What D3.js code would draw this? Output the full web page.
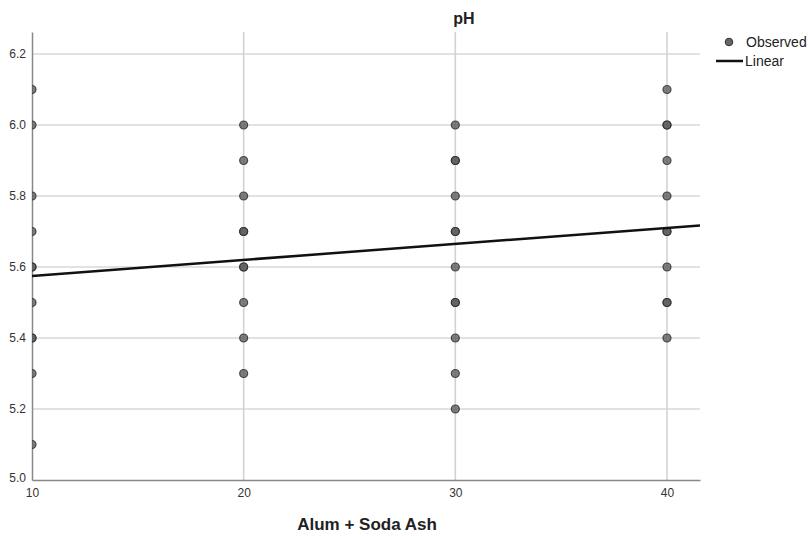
<!DOCTYPE html>
<html>
<head>
<meta charset="utf-8">
<script src="https://d3js.org/d3.v7.min.js"></script>
<style>
  body { margin: 0; background: #fff; }
  svg { display: block; font-family: "Liberation Sans", Arial, sans-serif; }
  .tick text { font-size: 12px; fill: #333; }
</style>
</head>
<body>
<script>
  // dose groups and observed pH readings (count = how many overlap)
  const doses = [10, 20, 30, 40];
  const phByDose = [
    [5.1, 5.3, 5.4, 5.5, 5.6, 5.7, 5.8, 6.0, 6.1],
    [5.3, 5.4, 5.5, 5.6, 5.7, 5.8, 5.9, 6.0],
    [5.2, 5.3, 5.4, 5.5, 5.6, 5.7, 5.8, 5.9, 6.0],
    [5.4, 5.5, 5.6, 5.7, 5.8, 5.9, 6.0, 6.1]
  ];
  const countsByDose = [
    [1, 1, 2, 1, 2, 1, 1, 1, 1],
    [1, 1, 1, 2, 2, 1, 1, 1],
    [1, 1, 1, 2, 1, 2, 1, 2, 1],
    [1, 2, 1, 2, 1, 1, 2, 1]
  ];
  // fitted linear model
  const intercept = 5.53;
  const slope = 0.0045;

  const xTicks = [10, 20, 30, 40];
  const yTicks = [5.0, 5.2, 5.4, 5.6, 5.8, 6.0, 6.2];

  const width = 811, height = 537;
  const mLeft = 32, mRight = 700, mTop = 32, mBottom = 480;

  const x = d3.scaleLinear().domain([10, 41.56]).range([mLeft, mRight]);
  const y = d3.scaleLinear().domain([5.0, 6.262]).range([mBottom, mTop]);

  const svg = d3.select('body').append('svg')
    .attr('width', width).attr('height', height);

  svg.append('defs').append('clipPath').attr('id', 'plot')
    .append('rect').attr('x', mLeft).attr('y', mTop)
    .attr('width', mRight - mLeft).attr('height', mBottom - mTop);

  // gridlines
  svg.append('g').selectAll('line')
    .data(yTicks.slice(1))
    .join('line')
    .attr('x1', mLeft).attr('x2', mRight)
    .attr('y1', d => y(d)).attr('y2', d => y(d))
    .attr('stroke', '#c4c4c4').attr('stroke-width', 1);

  svg.append('g').selectAll('line')
    .data(xTicks.slice(1))
    .join('line')
    .attr('x1', d => x(d)).attr('x2', d => x(d))
    .attr('y1', mTop).attr('y2', mBottom)
    .attr('stroke', '#d2d2d2').attr('stroke-width', 1.6);

  // axes
  const xAxis = svg.append('g')
    .attr('transform', `translate(0,${mBottom})`)
    .call(d3.axisBottom(x).tickValues(xTicks).tickSize(0).tickPadding(8).tickFormat(d3.format('d')));
  xAxis.select('.domain').attr('stroke', '#888').attr('stroke-width', 1.5);

  const yAxis = svg.append('g')
    .attr('transform', `translate(${mLeft},0)`)
    .call(d3.axisLeft(y).tickValues(yTicks).tickSize(0).tickPadding(6).tickFormat(d3.format('.1f')));
  yAxis.select('.domain').attr('stroke', '#888').attr('stroke-width', 1.5);
  yAxis.selectAll('.tick text').attr('dy', d => d === 5.0 ? '0.1em' : '0.32em');

  const plot = svg.append('g').attr('clip-path', 'url(#plot)');

  // observed points
  const pts = doses.flatMap((dose, i) =>
    phByDose[i].flatMap((v, j) => d3.range(countsByDose[i][j]).map(() => ({ dose, v }))));

  plot.selectAll('circle')
    .data(pts)
    .join('circle')
    .attr('cx', d => x(d.dose))
    .attr('cy', d => y(d.v))
    .attr('r', 4)
    .attr('fill', '#5e5e5e')
    .attr('fill-opacity', 0.8)
    .attr('stroke', '#2a2a2a')
    .attr('stroke-opacity', 0.8)
    .attr('stroke-width', 1.2);

  // fit line
  const xs = x.domain();
  plot.append('line')
    .attr('x1', x(xs[0])).attr('y1', y(intercept + slope * xs[0]))
    .attr('x2', x(xs[1])).attr('y2', y(intercept + slope * xs[1]))
    .attr('stroke', '#111').attr('stroke-width', 2.5);

  // titles
  svg.append('text')
    .attr('x', 464).attr('y', 24)
    .attr('text-anchor', 'middle')
    .attr('font-size', 16).attr('font-weight', 'bold').attr('fill', '#222')
    .text('pH');

  svg.append('text')
    .attr('x', 367).attr('y', 530)
    .attr('text-anchor', 'middle')
    .attr('font-size', 17).attr('font-weight', 'bold').attr('fill', '#222')
    .text('Alum + Soda Ash');

  // legend
  const lg = svg.append('g');
  lg.append('circle').attr('cx', 729).attr('cy', 42).attr('r', 3.8)
    .attr('fill', '#666').attr('stroke', '#333').attr('stroke-width', 1);
  lg.append('text').attr('x', 746).attr('y', 47).attr('font-size', 14).attr('fill', '#222').text('Observed');
  lg.append('line').attr('x1', 716).attr('x2', 743).attr('y1', 61).attr('y2', 61)
    .attr('stroke', '#111').attr('stroke-width', 2.5);
  lg.append('text').attr('x', 745).attr('y', 66).attr('font-size', 14).attr('fill', '#222').text('Linear');
</script>
</body>
</html>
